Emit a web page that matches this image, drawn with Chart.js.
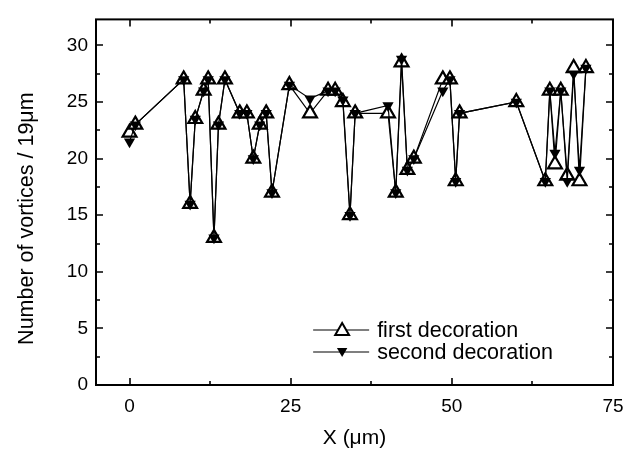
<!DOCTYPE html>
<html>
<head>
<meta charset="utf-8">
<script src="https://cdn.jsdelivr.net/npm/chart.js@4.4.1/dist/chart.umd.min.js"></script>
<style>
  html, body { margin: 0; padding: 0; background: #fff; }
  #wrap { width: 634px; height: 453px; }
</style>
</head>
<body>
<div id="wrap"><canvas id="chart"></canvas></div>
<script>
// positions along the sample (um)
const xPos = [0, 0.9, 8.4, 9.4, 10.2, 11.5, 12.2, 13.1, 13.8, 14.8, 17.1, 18.2, 19.2, 20.2, 21.2, 22.1, 24.8,
  28.0, 30.8, 31.9, 33.1, 34.2, 35.0, 40.1, 41.3, 42.2, 43.1, 44.1, 48.6, 49.7, 50.6, 51.2,
  60.0, 64.5, 65.2, 66.0, 66.9, 67.9, 68.9, 69.8, 70.8];
const firstDecoration = [22.3, 23, 27, 16, 23.5, 26, 27, 13, 23, 27, 24, 24, 20, 23, 24, 17, 26.5,
  24, 26, 26, 25, 15, 24, 24, 17, 28.5, 19, 20, 27, 27, 18, 24,
  25, 18, 26, 19.5, 26, 18.5, 28, 18, 28];
const secondDecoration = [21.5, 23, 27, 16, 23.5, 26, 27, 13, 23, 27, 24, 24, 20, 23, 24, 17, 26.5,
  25.3, 26, 26, 25.2, 15, 24, 24.7, 17, 28.8, 19, 20, 26, 27, 18, 24,
  25, 18, 26, 20.5, 26, 18, 27.5, 19, 28];

const xTicks = [0, 25, 50, 75];
const xMinorTicks = [12.5, 37.5, 62.5];
const yTicks = [0, 5, 10, 15, 20, 25, 30];
const yMinorTicks = [2.5, 7.5, 12.5, 17.5, 22.5, 27.5];
const seriesNames = ['first decoration', 'second decoration'];
const yTitle = 'Number of vortices / 19\u03bcm';

const FONT = '"Liberation Sans", Arial, Helvetica, sans-serif';

const toPoints = (vals) => xPos.map((x, i) => ({ x: x, y: vals[i] }));

function triangle(ctx, x, y, r, down) {
  const s = down ? -1 : 1;
  ctx.beginPath();
  ctx.moveTo(x, y - s * r);
  ctx.lineTo(x + 0.866 * r, y + s * r / 2);
  ctx.lineTo(x - 0.866 * r, y + s * r / 2);
  ctx.closePath();
}

// frame, inward ticks on all four sides, y title and the legend box
const frameAndLegend = {
  id: 'frameAndLegend',
  afterDatasetsDraw(chart) {
    const { ctx, chartArea: a, scales: { x, y } } = chart;
    ctx.save();
    ctx.strokeStyle = '#000';
    ctx.lineWidth = 2;
    ctx.strokeRect(a.left, a.top, a.right - a.left, a.bottom - a.top);

    ctx.lineWidth = 1.6;
    const xt = (v, len) => {
      const px = Math.round(x.getPixelForValue(v));
      ctx.beginPath();
      ctx.moveTo(px, a.bottom); ctx.lineTo(px, a.bottom - len);
      ctx.moveTo(px, a.top); ctx.lineTo(px, a.top + len);
      ctx.stroke();
    };
    const yt = (v, len) => {
      const py = Math.round(y.getPixelForValue(v));
      ctx.beginPath();
      ctx.moveTo(a.left, py); ctx.lineTo(a.left + len, py);
      ctx.moveTo(a.right, py); ctx.lineTo(a.right - len, py);
      ctx.stroke();
    };
    xTicks.forEach(v => xt(v, 7));
    xMinorTicks.forEach(v => xt(v, 4));
    yTicks.forEach(v => yt(v, 7));
    yMinorTicks.forEach(v => yt(v, 4));

    // y axis title, sitting a little below the plot middle as in the original
    ctx.save();
    ctx.translate(27, y.getPixelForValue(14.7));
    ctx.rotate(-Math.PI / 2);
    ctx.font = '21.5px ' + FONT;
    ctx.fillStyle = '#000';
    ctx.textAlign = 'center';
    ctx.textBaseline = 'middle';
    ctx.fillText(yTitle, 0, 0);
    ctx.restore();

    // legend
    const lx = a.left + (a.right - a.left) * 0.42;
    const rowY = [a.bottom - 55, a.bottom - 33];
    ctx.font = '21.5px ' + FONT;
    ctx.fillStyle = '#000';
    ctx.textBaseline = 'middle';
    rowY.forEach((ry, i) => {
      ctx.lineWidth = 1.2;
      ctx.beginPath();
      ctx.moveTo(lx, ry); ctx.lineTo(lx + 56, ry);
      ctx.stroke();
      if (i === 0) {
        triangle(ctx, lx + 29, ry + 1, 8, false);
        ctx.fillStyle = '#fff'; ctx.fill();
        ctx.lineWidth = 2; ctx.stroke();
      } else {
        triangle(ctx, lx + 29, ry - 1, 6, true);
        ctx.fillStyle = '#000'; ctx.fill();
      }
      ctx.fillStyle = '#000';
      ctx.fillText(seriesNames[i], lx + 64, ry + 1);
    });
    ctx.restore();
  }
};

new Chart(document.getElementById('chart'), {
  type: 'scatter',
  data: {
    datasets: [{
      label: seriesNames[0],
      data: toPoints(firstDecoration),
      showLine: true,
      borderColor: '#000',
      borderWidth: 1.2,
      pointStyle: 'triangle',
      pointRadius: 8,
      pointBorderWidth: 2.2,
      pointBackgroundColor: '#fff',
      pointBorderColor: '#000',
      order: 2
    }, {
      label: seriesNames[1],
      data: toPoints(secondDecoration),
      showLine: true,
      borderColor: '#000',
      borderWidth: 1.2,
      pointStyle: 'triangle',
      pointRotation: 180,
      pointRadius: 6.5,
      pointBorderWidth: 0,
      pointBackgroundColor: '#000',
      pointBorderColor: '#000',
      order: 1
    }]
  },
  options: {
    responsive: true,
    maintainAspectRatio: false,
    animation: false,
    events: [],
    layout: { padding: { left: 0, right: 21, top: 6, bottom: 0 } },
    plugins: {
      legend: { display: false },
      tooltip: { enabled: false }
    },
    scales: {
      x: {
        type: 'linear',
        min: -5.2,
        max: 75,
        grid: { display: false, drawTicks: false },
        border: { display: false },
        afterBuildTicks: (s) => { s.ticks = xTicks.map(v => ({ value: v })); },
        afterFit: (s) => { s.height = 68; },
        ticks: {
          autoSkip: false,
          maxRotation: 0,
          padding: 10,
          color: '#000',
          font: { family: FONT, size: 19 }
        },
        title: {
          display: true,
          text: 'X (\u03bcm)',
          color: '#000',
          font: { family: FONT, size: 21 },
          padding: { top: 0, bottom: 2 }
        }
      },
      y: {
        type: 'linear',
        min: 0,
        max: 32.3,
        grid: { display: false, drawTicks: false },
        border: { display: false },
        afterBuildTicks: (s) => { s.ticks = yTicks.map(v => ({ value: v })); },
        afterFit: (s) => { s.width = 96; },
        ticks: {
          autoSkip: false,
          padding: 8,
          color: '#000',
          font: { family: FONT, size: 19 }
        },
        title: { display: false }
      }
    }
  },
  plugins: [frameAndLegend]
});
</script>
</body>
</html>
